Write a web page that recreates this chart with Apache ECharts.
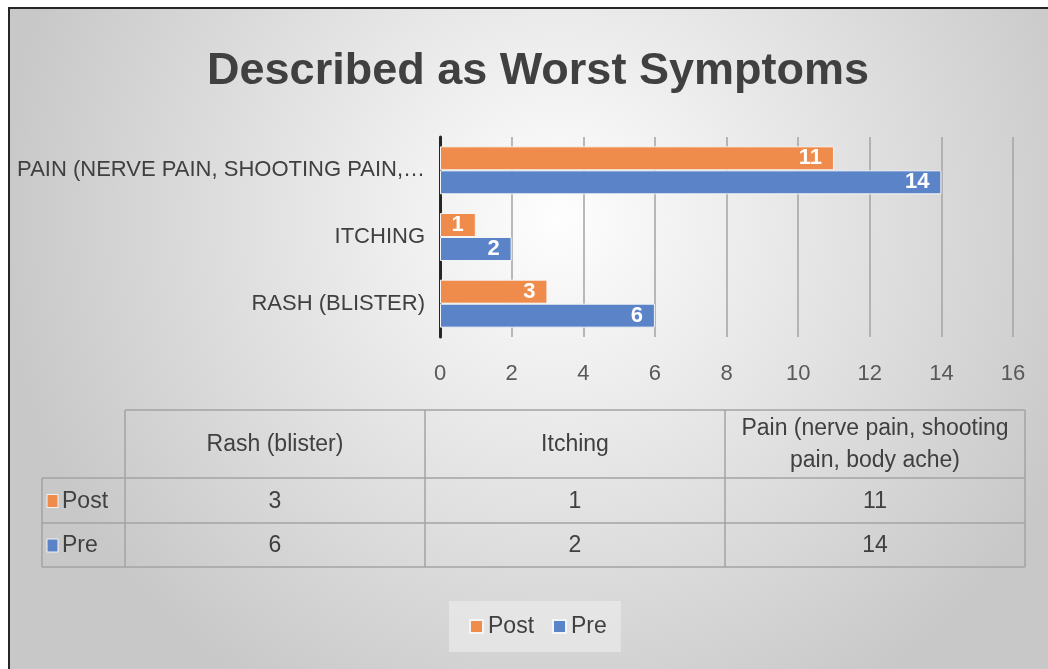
<!DOCTYPE html>
<html>
<head>
<meta charset="utf-8">
<script src="https://cdn.jsdelivr.net/npm/echarts@6/dist/echarts.min.js"></script>
<style>
  html, body { margin: 0; padding: 0; background: #ffffff; }
  #chart { width: 1048px; height: 669px; }
</style>
</head>
<body>
<div id="chart"></div>
<script>
// data
var categories = ['Rash (blister)', 'Itching', 'Pain (nerve pain, shooting pain, body ache)'];
var postValues = [3, 1, 11];
var preValues = [6, 2, 14];
var xTicks = [0, 2, 4, 6, 8, 10, 12, 14, 16];

var FONT = "'Liberation Sans', Arial, sans-serif";
var TEXT = '#404040';
var ORANGE = '#EF8B4B';
var BLUE = '#5A83C8';
var LINE = '#a3a3a3';

// data table under the chart (Excel style)
function buildTable() {
	var els = [];
	var x0 = 42, x1 = 125, colW = 300;
	var yTop = 410, yHead = 478, yRow1 = 523, yBot = 567;
	var xEnd = x1 + colW * categories.length;
	var hline = function (xa, xb, y) {
		els.push({ type: 'line', shape: { x1: xa, y1: y, x2: xb, y2: y },
			style: { stroke: LINE, lineWidth: 1.5 }, z: 10 });
	};
	var vline = function (x, ya, yb) {
		els.push({ type: 'line', shape: { x1: x, y1: ya, x2: x, y2: yb },
			style: { stroke: LINE, lineWidth: 1.5 }, z: 10 });
	};
	hline(x1, xEnd, yTop);
	hline(x0, xEnd, yHead);
	hline(x0, xEnd, yRow1);
	hline(x0, xEnd, yBot);
	vline(x0, yHead, yBot);
	for (var i = 0; i <= categories.length; i++) {
		vline(x1 + colW * i, yTop, yBot);
	}
	var txt = function (s, x, y, align) {
		els.push({ type: 'text', x: x, y: y, z: 11,
			style: { text: s, fill: TEXT, font: '23px ' + FONT,
				align: align || 'center', verticalAlign: 'middle', lineHeight: 32 } });
	};
	for (var c = 0; c < categories.length; c++) {
		var cx = x1 + colW * c + colW / 2;
		var name = categories[c];
		if (name.length > 30) {
			name = 'Pain (nerve pain, shooting\npain, body ache)';
		}
		txt(name, cx, (yTop + yHead) / 2 + 1);
		txt(String(postValues[c]), cx, (yHead + yRow1) / 2 + 1);
		txt(String(preValues[c]), cx, (yRow1 + yBot) / 2 + 1);
	}
	// row headers with legend keys
	var rows = [['Post', ORANGE, (yHead + yRow1) / 2], ['Pre', BLUE, (yRow1 + yBot) / 2]];
	rows.forEach(function (r) {
		els.push({ type: 'rect', shape: { x: 47, y: r[2] - 6, width: 11, height: 13 },
			style: { fill: r[1], stroke: '#f2f2f2', lineWidth: 1 }, z: 11 });
		txt(r[0], 62, r[2] + 1, 'left');
	});
	return els;
}

var chart = echarts.init(document.getElementById('chart'));
var graphics = [{
	type: 'rect', z: -10, silent: true,
	shape: { x: 9, y: 8, width: 1100, height: 700 },
	style: {
		fill: new echarts.graphic.RadialGradient(0.5, 0.3, 0.8, [
			{ offset: 0, color: '#fefefe' },
			{ offset: 1, color: '#c8c8c8' }
		]),
		stroke: '#262626', lineWidth: 2
	}
}].concat(buildTable());

var option = {
	animation: false,
	title: {
		text: 'Described as Worst Symptoms',
		left: 533, top: 44, textAlign: 'center',
		textStyle: { fontFamily: FONT, fontSize: 45, fontWeight: 'bold', color: TEXT }
	},
	legend: {
		data: ['Post', 'Pre'],
		left: 449, top: 601,
		padding: [14, 14, 14, 20],
		backgroundColor: 'rgba(240,240,240,0.55)',
		icon: 'rect', itemWidth: 13, itemHeight: 13, itemGap: 18,
		textStyle: { fontFamily: FONT, fontSize: 23, color: TEXT }
	},
	grid: { left: 440, right: 35, top: 137, bottom: 332, containLabel: false },
	xAxis: {
		type: 'value', min: xTicks[0], max: xTicks[xTicks.length - 1], interval: 2,
		axisLine: { show: false }, axisTick: { show: false },
		axisLabel: { fontFamily: FONT, fontSize: 22, color: '#595959', margin: 26 },
		splitLine: { lineStyle: { color: LINE, width: 1.5 } }
	},
	yAxis: {
		type: 'category', data: categories,
		axisLine: { lineStyle: { color: '#262626', width: 3 } },
		axisTick: { show: false },
		axisLabel: {
			fontFamily: FONT, fontSize: 22, color: TEXT, margin: 15,
			width: 409, overflow: 'truncate', ellipsis: '…',
			formatter: function (v) { return v.toUpperCase(); }
		}
	},
	series: [{
		name: 'Post', type: 'bar', data: postValues,
		barGap: '0%', barCategoryGap: '28%',
		itemStyle: { color: ORANGE, borderColor: '#f5f5f5', borderWidth: 1 },
		label: { show: true, position: 'insideRight', color: '#fff', fontFamily: FONT,
			fontSize: 22, fontWeight: 'bold', distance: 12 }
	}, {
		name: 'Pre', type: 'bar', data: preValues,
		itemStyle: { color: BLUE, borderColor: '#f5f5f5', borderWidth: 1 },
		label: { show: true, position: 'insideRight', color: '#fff', fontFamily: FONT,
			fontSize: 22, fontWeight: 'bold', distance: 12 }
	}],
	graphic: graphics
};
chart.setOption(option);
</script>
</body>
</html>
